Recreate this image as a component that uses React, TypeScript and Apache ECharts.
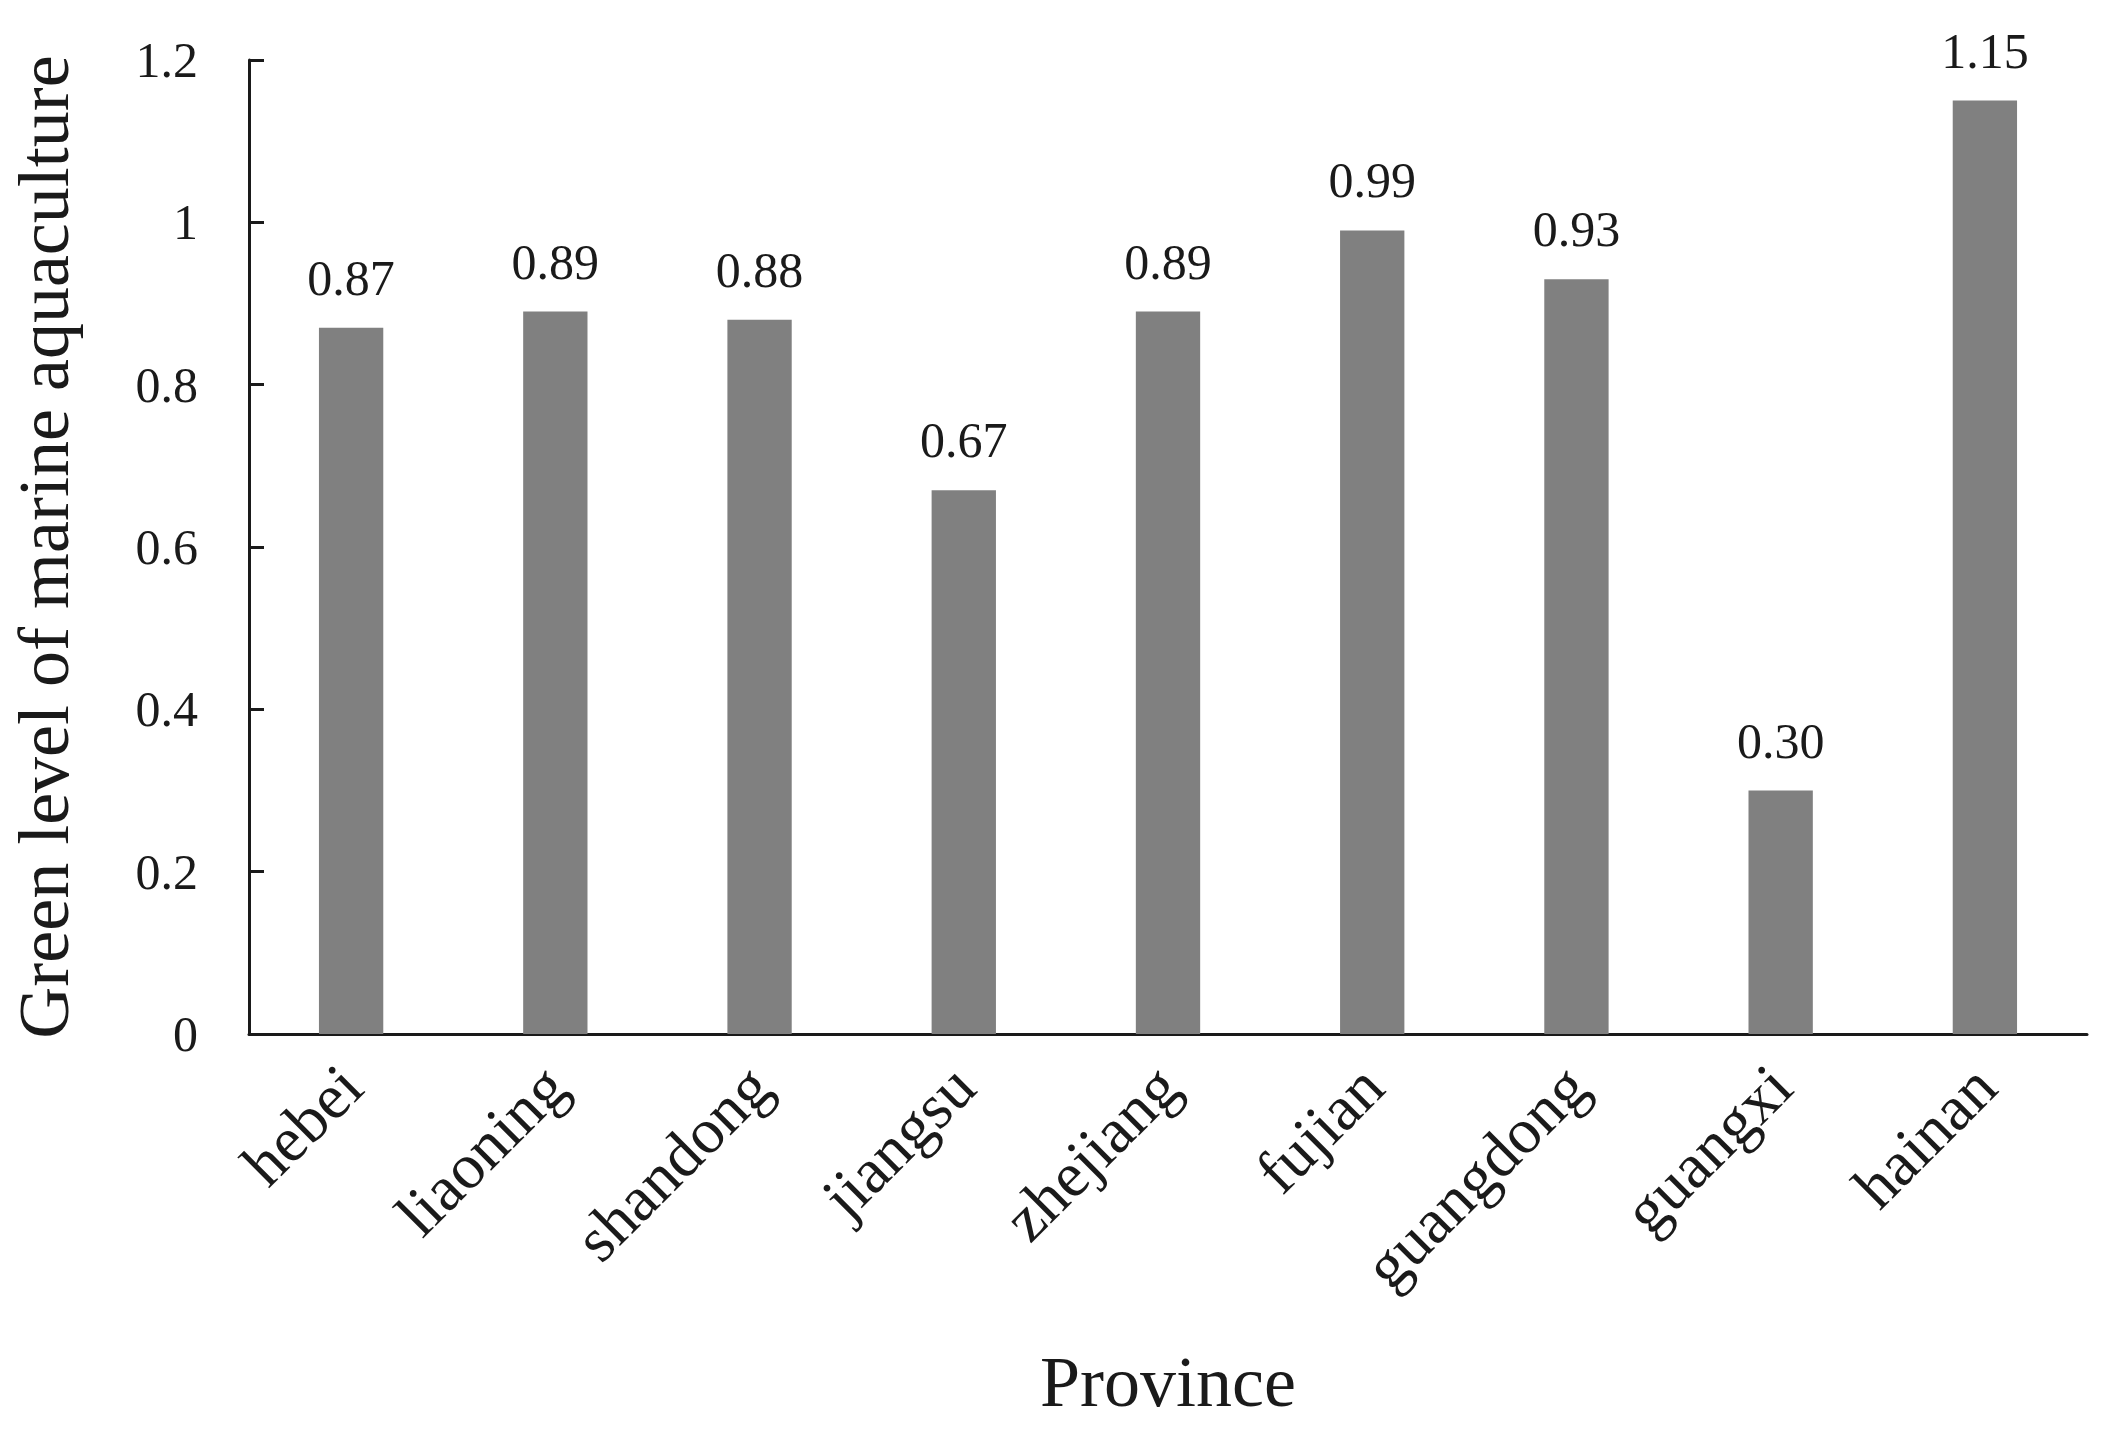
import React, { useEffect, useRef } from "react";
import * as echarts from "echarts";

const provinces = ["hebei", "liaoning", "shandong", "jiangsu", "zhejiang", "fujian", "guangdong", "guangxi", "hainan"];
const greenLevel = [0.87, 0.89, 0.88, 0.67, 0.89, 0.99, 0.93, 0.30, 1.15];
const yTitle = "Green level of marine aquaculture";
const xTitle = "Province";

const FONT = "'Liberation Serif', 'Times New Roman', serif";
const INK = "#1a1a1a";

export default function App() {
  const ref = useRef<HTMLDivElement>(null);
  useEffect(() => {
    if (!ref.current) return;
    const chart = echarts.init(ref.current, null, { renderer: "svg" });
    chart.setOption({
      animation: false,
      backgroundColor: "#ffffff",
      grid: { left: 249, right: 22, top: 60, bottom: 396, containLabel: false },
      xAxis: {
        type: "category",
        data: provinces,
        name: xTitle,
        nameLocation: "middle",
        nameGap: 348,
        nameTextStyle: { fontFamily: FONT, fontSize: 72, color: INK, verticalAlign: "middle" },
        axisLine: { lineStyle: { color: INK, width: 3 } },
        axisTick: { inside: true, length: 15, lineStyle: { color: INK, width: 3 } },
        axisLabel: { rotate: 45, margin: 42, fontFamily: FONT, fontSize: 64, color: INK, interval: 0 },
      },
      yAxis: {
        type: "value",
        min: 0,
        max: 1.2,
        interval: 0.2,
        name: yTitle,
        nameLocation: "middle",
        nameGap: 205,
        nameTextStyle: { fontFamily: FONT, fontSize: 72, color: INK, verticalAlign: "middle" },
        splitLine: { show: false },
        axisLine: { show: true, lineStyle: { color: INK, width: 3 } },
        axisTick: { show: true, inside: true, length: 15, lineStyle: { color: INK, width: 3 } },
        axisLabel: { margin: 51, fontFamily: FONT, fontSize: 50, color: INK },
      },
      series: [
        {
          type: "bar",
          data: greenLevel,
          barWidth: "31.5%",
          itemStyle: { color: "#808080" },
          label: {
            show: true,
            position: "top",
            distance: 25,
            fontFamily: FONT,
            fontSize: 50,
            color: INK,
            formatter: (p: any) => Number(p.value).toFixed(2),
          },
        },
      ],
    });
    return () => chart.dispose();
  }, []);
  return <div ref={ref} style={{ position: "fixed", left: 0, top: 0, width: 2109, height: 1430 }} />;
}
